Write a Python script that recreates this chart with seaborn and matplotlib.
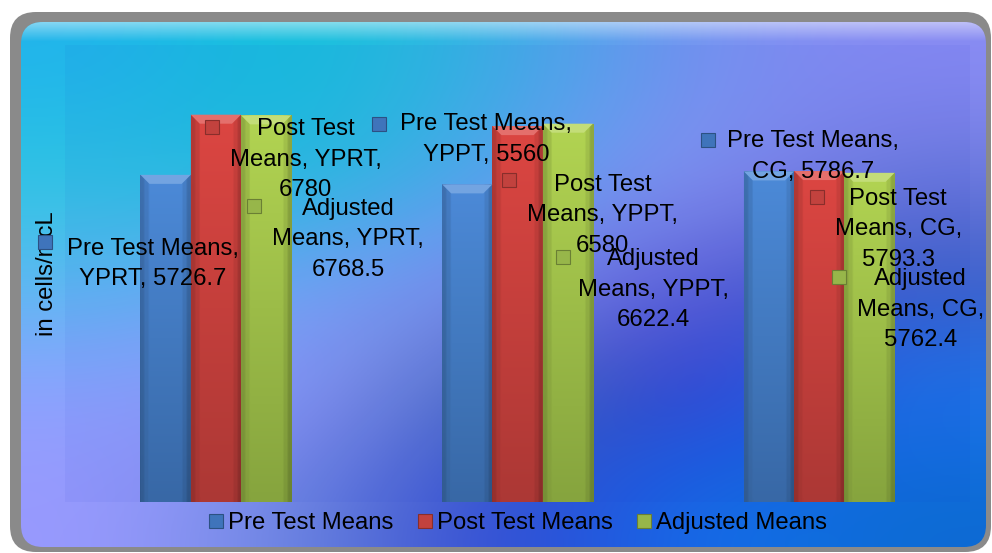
import numpy as np
import pandas as pd
import seaborn as sns
import matplotlib
matplotlib.use("Agg")
import matplotlib.pyplot as plt
from matplotlib.patches import FancyBboxPatch, Polygon
from matplotlib.colors import to_rgb
from matplotlib.transforms import offset_copy
from matplotlib.lines import Line2D

# ---- data -------------------------------------------------------------
groups = ["YPRT", "YPPT", "CG"]
series = ["Pre Test Means", "Post Test Means", "Adjusted Means"]
pre_test = [5726.7, 5560.0, 5786.7]
post_test = [6780.0, 6580.0, 5793.3]
adjusted = [6768.5, 6622.4, 5762.4]
y_label = "in cells/mcL"

# ---- style ------------------------------------------------------------
key_color = ["#3f74bb", "#c2423e", "#97b64a"]
bar_top = ["#4c8ad8", "#dc4642", "#b2d452"]
bar_bottom = ["#3868a6", "#ac3835", "#86a43e"]

# data-label placement in pixels relative to each bar top (right, down)
text_offsets = [[(-13, 89), (19, -45), (44, -15)],
                [(90, 45), (85, 89), (79, 58)],
                [(82, 124), (86, 166), (51, 137)]]
key_offsets = [[(-121, 67), (-88, -60), (-61, -31)],
               [(-4, 12), (-9, 54), (-2, 26)],
               [(-12, 91), (-5, 133), (-30, 104)]]

bg_grid = [
    ["#22b4ec", "#12c6d8", "#3cb2e8", "#7c94f2", "#8a8cf4"],
    ["#2ec6e2", "#1ec2de", "#5eaaf0", "#9696f8", "#6a78dc"],
    ["#5cbaf2", "#7aa6f8", "#9090f8", "#5a56d2", "#3a5cc4"],
    ["#8ea2ff", "#9a9aff", "#3c6cac", "#3434d4", "#1c78f0"],
    ["#9a9aff", "#6484da", "#3040d0", "#1272f0", "#0c6ad2"],
]

FONT = ["Liberation Sans", "DejaVu Sans"]
FS = 17.2

sns.set_theme(style="white")
plt.rcParams["font.family"] = FONT

W, H = 992, 553
fig = plt.figure(figsize=(W / 100, H / 100), dpi=100)
fig.patch.set_facecolor("white")

# ---- framed gradient background ---------------------------------------
bg = fig.add_axes([0, 0, 1, 1], zorder=-5)
bg.set_xlim(0, W)
bg.set_ylim(H, 0)
bg.axis("off")
outer = FancyBboxPatch((10, 12), 981, 540, boxstyle="round,pad=0,rounding_size=26",
                       fc="#8a8a8a", ec="none")
bg.add_patch(outer)
inner = FancyBboxPatch((21, 22), 965, 525, boxstyle="round,pad=0,rounding_size=22",
                       fc="none", ec="none")
bg.add_patch(inner)
grid = np.array([[to_rgb(c) for c in row] for row in bg_grid])
img = bg.imshow(grid, extent=(21, 986, 547, 22), interpolation="bicubic",
                aspect="auto", zorder=1)
img.set_clip_path(inner)
# soft highlight along the top rim
rim = np.zeros((20, 2, 4))
rim[..., :3] = 1.0
rim[..., 3] = np.linspace(0.45, 0.0, 20)[:, None]
rim_img = bg.imshow(rim, extent=(21, 986, 42, 22), aspect="auto", zorder=2,
                    interpolation="bilinear")
rim_img.set_clip_path(inner)
bg.set_xlim(0, W)
bg.set_ylim(H, 0)

# ---- bars -------------------------------------------------------------
ax = fig.add_axes([65 / W, 1 - 502 / H, 905 / W, 457 / H])
ax.set_facecolor((0.1, 0.2, 0.8, 0.05))

df = pd.DataFrame({
    "group": np.tile(groups, 3),
    "series": np.repeat(series, 3),
    "value": pre_test + post_test + adjusted,
})
sns.barplot(data=df, x="group", y="value", hue="series", order=groups,
            hue_order=series, palette=key_color, saturation=1, width=0.5,
            errorbar=None, legend=False, edgecolor="none", ax=ax)

ax.set_xlim(-0.5, 2.5)
ax.set_ylim(0, 8000)
for s in ax.spines.values():
    s.set_visible(False)
ax.set_xticks([])
ax.set_yticks([])
ax.set_xlabel("")
ax.set_ylabel(y_label, fontsize=FS, color="black")
ax.yaxis.set_label_coords(-0.0075, 0.5)

px_x = 3.0 / 905
px_y = 8000.0 / 457


def lighten(c, f):
    r = np.array(to_rgb(c))
    return tuple(r + (1 - r) * f)


def darken(c, f):
    return tuple(np.array(to_rgb(c)) * f)


for si, cont in enumerate(ax.containers):
    top = np.array(to_rgb(bar_top[si]))
    bot = np.array(to_rgb(bar_bottom[si]))
    for bar in cont.patches:
        x0 = bar.get_x()
        w = bar.get_width()
        h = bar.get_height()
        # body shading: vertical fade, darker side edges
        n, m = 120, 24
        t = np.linspace(0, 1, n)[:, None, None]
        body = top * (1 - t) + bot * t
        body = np.repeat(body, m, axis=1)
        side = np.ones(m)
        side[:2] = 0.8
        side[-2:] = 0.8
        side[2:4] = 0.92
        side[-4:-2] = 0.92
        body = body * side[None, :, None]
        im = ax.imshow(body, extent=(x0, x0 + w, 0, h), aspect="auto",
                       interpolation="bilinear", zorder=2)
        im.set_clip_path(bar)
        # bevelled top face
        bh, bi = 9 * px_y, 9 * px_x
        ax.add_patch(Polygon([(x0, h), (x0 + w, h), (x0 + w - bi, h - bh),
                              (x0 + bi, h - bh)], closed=True,
                             fc=lighten(bar_top[si], 0.22), ec="none", zorder=3))
        ax.add_patch(Polygon([(x0, h), (x0 + bi, h - bh), (x0 + bi, 0), (x0, 0)],
                             closed=True, fc=darken(bar_top[si], 0.85), ec="none",
                             alpha=0.25, zorder=3))

ax.set_xlim(-0.5, 2.5)
ax.set_ylim(0, 8000)

# ---- data labels with legend keys ------------------------------------
vals = [pre_test, post_test, adjusted]
for si, cont in enumerate(ax.containers):
    for gi, bar in enumerate(cont.patches):
        v = vals[si][gi]
        g = groups[gi]
        if si == 0:
            txt = f"Pre Test Means,\n{g}, {v:g}"
        elif si == 1:
            txt = f"Post Test\nMeans, {g},\n{v:g}"
        else:
            txt = f"Adjusted\nMeans, {g},\n{v:g}"
        cx = bar.get_x() + bar.get_width() / 2
        dx, dy = text_offsets[si][gi]
        tr = offset_copy(ax.transData, fig=fig, x=dx, y=-dy, units="dots")
        ax.text(cx, bar.get_height(), txt, transform=tr, ha="center", va="center",
                multialignment="center", fontsize=FS, color="black",
                linespacing=1.5, zorder=6, clip_on=False)
        kx, ky = key_offsets[si][gi]
        ktr = offset_copy(ax.transData, fig=fig, x=kx, y=-ky, units="dots")
        ax.plot([cx], [bar.get_height()], marker="s", ms=9.5, ls="",
                mfc=key_color[si], mec=darken(key_color[si], 0.7), mew=0.8,
                transform=ktr, zorder=7, clip_on=False)

# ---- legend -----------------------------------------------------------
handles = [Line2D([], [], marker="s", ls="", ms=10, mfc=key_color[i],
                  mec=darken(key_color[i], 0.7), mew=0.8) for i in range(3)]
fig.legend(handles, series, loc="center", bbox_to_anchor=(518 / W, 1 - 523 / H),
           ncol=3, frameon=False, fontsize=FS, handlelength=0.6,
           handletextpad=0.2, columnspacing=1.0, borderaxespad=0,
           labelcolor="black")

fig.savefig("out.png", dpi=100)
